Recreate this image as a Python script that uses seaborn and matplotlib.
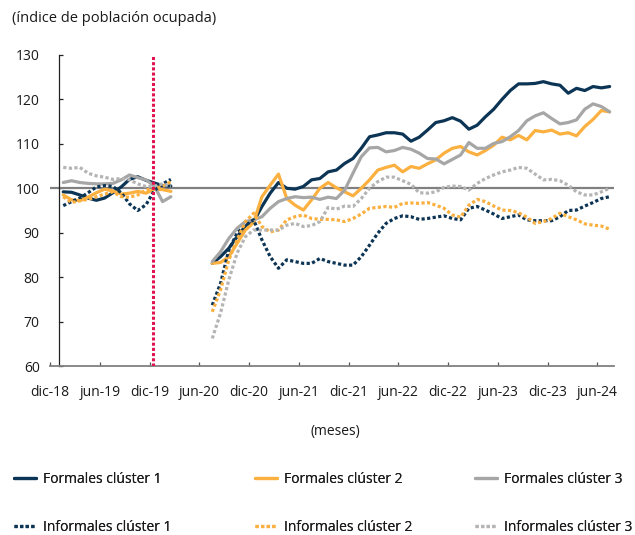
import matplotlib
matplotlib.use("Agg")
import matplotlib.pyplot as plt
import numpy as np
import pandas as pd
import seaborn as sns
from matplotlib.lines import Line2D

# ---------------- data ----------------
# monthly index: 0 = first observed month ... ; months 14-17 have no data
pre_f1 = [99.2, 99.1, 98.5, 97.8, 97.3, 97.8, 99.0, 100.3, 102.0, 102.6, 101.8, 101.2, 100.6, 100.5]
pre_f2 = [98.5, 97.4, 97.2, 98.0, 99.0, 99.8, 99.4, 98.7, 98.9, 99.3, 98.9, 99.8, 99.7, 99.3]
pre_f3 = [101.3, 101.7, 101.3, 101.1, 101.0, 101.0, 101.1, 101.9, 103.0, 102.4, 101.9, 100.5, 97.0, 98.1]
pre_i1 = [96.1, 97.0, 97.8, 99.0, 100.3, 100.6, 100.4, 99.0, 96.5, 95.0, 96.3, 99.5, 101.0, 102.0]
pre_i2 = [98.1, 96.8, 97.2, 97.5, 98.1, 98.7, 99.2, 98.1, 98.0, 98.5, 99.6, 100.0, 100.4, 101.5]
pre_i3 = [104.7, 104.5, 104.7, 103.4, 102.8, 102.5, 102.0, 102.2, 101.9, 101.0, 100.4, 100.5, 101.0, 100.4]

post_f1 = [83.1, 84.6, 86.5, 89.1, 91.5, 92.5, 95.9, 98.9, 101.3, 100.0, 99.8, 100.4, 101.9,
           102.2, 103.7, 104.1, 105.6, 106.7, 109.0, 111.6, 112.0, 112.5, 112.5, 112.2, 110.6,
           111.5, 113.1, 114.8, 115.2, 115.9, 115.1, 113.3, 114.2, 116.1, 117.8, 120.0, 122.0,
           123.5, 123.5, 123.6, 124.0, 123.5, 123.2, 121.4, 122.5, 122.0, 122.9, 122.6, 122.9]
post_f2 = [83.1, 83.3, 84.6, 87.6, 90.6, 92.3, 98.1, 100.7, 103.2, 97.7, 96.2, 95.1, 97.4,
           100.0, 101.3, 100.1, 99.2, 98.3, 100.0, 101.9, 104.1, 104.7, 105.2, 103.7, 104.9,
           104.5, 105.5, 106.4, 107.9, 109.0, 109.4, 108.2, 107.5, 108.5, 109.7, 111.5, 110.9,
           111.9, 110.9, 113.0, 112.7, 113.1, 112.2, 112.5, 111.8, 113.9, 115.5, 117.5, 117.2]
post_f3 = [83.5, 85.7, 88.7, 91.0, 92.5, 92.9, 93.6, 95.5, 97.0, 97.7, 98.1, 97.9, 98.0,
           97.5, 98.0, 97.7, 99.6, 103.4, 107.1, 109.1, 109.2, 108.2, 108.5, 109.2, 108.8,
           107.9, 106.7, 106.6, 105.5, 106.5, 107.5, 110.3, 109.0, 109.0, 110.1, 110.5, 111.6,
           113.0, 115.2, 116.3, 117.0, 115.7, 114.5, 114.8, 115.4, 117.8, 119.0, 118.4, 117.2]
post_i1 = [73.7, 78.6, 86.1, 89.9, 91.7, 92.9, 88.4, 84.6, 82.0, 83.9, 83.5, 83.1, 83.1,
           84.2, 83.5, 83.1, 82.7, 82.7, 84.6, 87.2, 89.9, 92.1, 93.2, 93.8, 93.6,
           93.0, 93.2, 93.5, 93.8, 93.2, 92.9, 95.5, 95.9, 95.1, 94.2, 93.2, 93.6,
           94.0, 92.9, 92.7, 92.7, 92.7, 93.6, 95.0, 95.1, 96.0, 96.8, 97.7, 98.1]
post_i2 = [72.2, 77.1, 83.9, 88.4, 92.5, 94.4, 91.4, 90.2, 90.6, 92.9, 93.6, 94.0, 93.2,
           93.0, 93.0, 92.9, 92.5, 93.2, 94.2, 95.5, 95.7, 95.9, 95.7, 96.6, 96.7,
           96.6, 96.8, 96.2, 95.5, 94.0, 93.5, 96.2, 97.5, 97.0, 96.0, 95.1, 95.0,
           94.5, 93.5, 92.1, 92.5, 93.2, 94.4, 93.6, 92.9, 92.0, 91.7, 91.5, 90.8]
post_i3 = [66.2, 71.9, 79.4, 85.4, 89.1, 90.6, 90.6, 90.6, 90.6, 91.7, 92.1, 91.4, 91.6,
           92.5, 95.7, 95.3, 96.0, 95.9, 97.7, 100.0, 101.5, 102.5, 102.5, 101.7, 100.9,
           99.0, 98.9, 99.2, 100.2, 100.5, 100.4, 99.6, 101.1, 102.2, 103.0, 103.7, 104.1,
           104.7, 104.5, 103.2, 101.9, 102.0, 101.7, 100.7, 99.2, 98.5, 98.5, 99.2, 100.0]

series_names = ["Formales clúster 1", "Formales clúster 2", "Formales clúster 3",
                "Informales clúster 1", "Informales clúster 2", "Informales clúster 3"]
pre_values = [pre_f1, pre_f2, pre_f3, pre_i1, pre_i2, pre_i3]
post_values = [post_f1, post_f2, post_f3, post_i1, post_i2, post_i3]
post_start = 18

x_tick_labels = ["dic-18", "jun-19", "dic-19", "jun-20", "dic-20", "jun-21",
                 "dic-21", "jun-22", "dic-22", "jun-23", "dic-23", "jun-24"]
x_tick_first = -1.58   # position of dic-18 on the month index
x_tick_step = 6.01     # six months
y_ticks = [60, 70, 80, 90, 100, 110, 120, 130]
reference_level = 100
marker_month = 10.86  # dotted red marker (end of 2019)

# ---------------- long table ----------------
rows = []
for name, pre, post in zip(series_names, pre_values, post_values):
    for i, v in enumerate(pre):
        rows.append((name, i, v, 0))
    for j, v in enumerate(post):
        rows.append((name, post_start + j, v, 1))
df = pd.DataFrame(rows, columns=["serie", "mes", "indice", "tramo"])

# ---------------- style ----------------
sns.set_style("white")
plt.rcParams["font.family"] = ["Open Sans", "DejaVu Sans"]
TXT = "#1a1a1a"

NAVY = "#0c3455"
ORANGE = "#fbb040"
GRAY = "#a6a6a6"
GRAY_DOT = "#b4b4b4"
colors = [NAVY, ORANGE, GRAY, NAVY, ORANGE, GRAY_DOT]
dotted = (0, (1, 0.75))
styles = ["-", "-", "-", dotted, dotted, dotted]

fig = plt.figure(figsize=(6.35, 5.35), dpi=100)
W, H = 635, 535
ax = fig.add_axes([50 / W, 1 - 366 / H, (614 - 50) / W, (366 - 55) / H])

ax.axhline(reference_level, color="#808080", lw=1.6, zorder=1)

for name, c, ls in zip(series_names, colors, styles):
    sub = df[df["serie"] == name]
    sns.lineplot(data=sub, x="mes", y="indice", units="tramo", estimator=None,
                 color=c, linestyle=ls, lw=2.3, ax=ax, legend=False, zorder=3)

ax.axvline(marker_month, color="#e0124f", lw=2.2, linestyle=(0, (1, 0.7)), zorder=4)

# axes
ax.set_xlim(-1.6, 66.53)
ax.set_ylim(60, 130)
ax.set_xlabel("")
ax.set_ylabel("")
for s in ["top", "right"]:
    ax.spines[s].set_visible(False)
ax.spines["left"].set_position(("data", -0.5))
ax.spines["left"].set_color("#222222")
ax.spines["left"].set_linewidth(0.9)
ax.spines["bottom"].set_color("#808080")
ax.spines["bottom"].set_linewidth(1.3)

ax.set_yticks(y_ticks)
ax.set_yticklabels([str(t) for t in y_ticks])
ax.tick_params(axis="y", direction="in", length=3, width=0.9, color="#222222",
               pad=14, labelsize=10, labelcolor=TXT, left=True)

tick_pos = [x_tick_first + x_tick_step * k for k in range(len(x_tick_labels))]
ax.set_xticks(tick_pos)
ax.set_xticklabels(x_tick_labels)
ax.tick_params(axis="x", direction="in", length=3, width=0.9, color="#555555", bottom=True,
               pad=14, labelsize=10, labelcolor=TXT)

fig.text(12 / W, 1 - 19 / H, "(índice de población ocupada)", ha="left", va="center",
         fontsize=10.5, color=TXT)
fig.text(335 / W, 1 - 432 / H, "(meses)", ha="center", va="center", fontsize=10, color=TXT)

# legend: three columns of two rows each
col_x = [14, 255, 475]
for k in range(3):
    hs = [Line2D([], [], color=colors[k], lw=2.3, linestyle=styles[k]),
          Line2D([], [], color=colors[k + 3], lw=2.3, linestyle=styles[k + 3])]
    labs = [series_names[k], series_names[k + 3]]
    leg = fig.legend(hs, labs, loc="upper left", bbox_to_anchor=(col_x[k] / W, 1 - 472 / H),
                     frameon=False, fontsize=10, handlelength=1.6, handletextpad=0.5,
                     labelspacing=2.35, borderpad=0, borderaxespad=0, labelcolor=TXT)
    fig.add_artist(leg)

fig.savefig("out.png", dpi=100)
